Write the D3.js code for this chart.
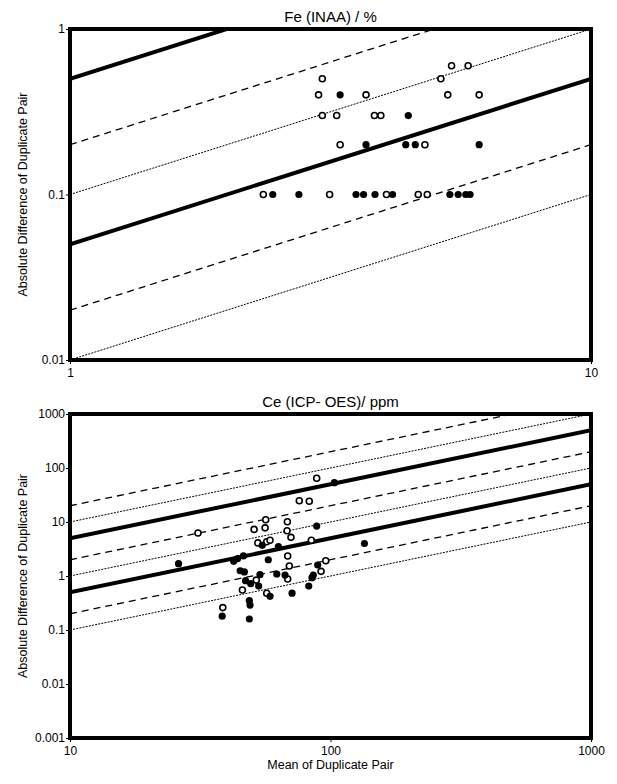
<!DOCTYPE html>
<html><head><meta charset="utf-8">
<script src="https://cdn.jsdelivr.net/npm/d3@7"></script>
<style>body{margin:0;background:#fff}text{font-family:"Liberation Sans",Arial,sans-serif}</style>
</head><body><svg id="c" width="617" height="784"></svg>
<script>
// ---- Top panel: Fe (INAA) / % ----
const feOpenX = [3.05,3.0,3.70,3.05,3.25,3.84,3.95,3.30,4.80,2.35,3.15,4.05,4.66,4.85,5.40,5.81,5.15,5.31,6.10];
const feOpenY = [0.5,0.4,0.4,0.3,0.3,0.3,0.3,0.2,0.2,0.1,0.1,0.1,0.1,0.1,0.6,0.6,0.5,0.4,0.4];
const feFillX = [3.30,4.46,3.70,4.41,4.60,2.45,2.75,3.54,3.66,3.85,4.16,6.10,5.36,5.56,5.75,5.86];
const feFillY = [0.4,0.3,0.2,0.2,0.2,0.1,0.1,0.1,0.1,0.1,0.1,0.2,0.1,0.1,0.1,0.1];
const feXTicks = [1,10];
const feYTicks = [0.01,0.1,1];
// ---- Bottom panel: Ce (ICP-OES)/ ppm ----
const ceOpenX = [88.5,75.9,82.9,56.4,68.3,50.9,56.1,68.1,31.0,70.5,52.6,56.9,58.6,84.4,68.5,95.9,69.5,92.0,68.5,51.9,45.9,56.9,38.6];
const ceOpenY = [64.4,24.8,24.2,11.0,10.1,7.3,7.8,6.9,6.25,5.2,4.1,4.3,4.6,4.6,2.35,1.92,1.53,1.22,0.88,0.84,0.55,0.48,0.26];
const ceFillX = [103.5,88.5,54.7,63.1,46.3,44.0,42.5,57.7,26.1,89.3,45.0,46.7,53.6,62.2,66.9,85.9,84.9,47.2,49.4,53.0,82.5,71.2,58.6,48.8,49.1,38.4,48.8,135];
const ceFillY = [53.4,8.4,3.7,3.5,2.35,2.1,1.87,2.0,1.69,1.6,1.25,1.19,1.06,1.09,1.04,1.04,0.93,0.82,0.72,0.65,0.65,0.48,0.42,0.35,0.29,0.18,0.16,4.0];
const ceXTicks = [10,100,1000];
const ceYTicks = [0.001,0.01,0.1,1,10,100,1000];
// reference lines: |d| = k * mean
const feLinesK = [0.5,0.2,0.1,0.05,0.02,0.01];
const feLinesStyle = ["thick","dashed","dotted","thick","dashed","dotted"];
const ceLinesK = [2,1,0.5,0.2,0.1,0.05,0.02,0.01];
const ceLinesStyle = ["dashed","dotted","thick","dashed","dotted","thick","dashed","dotted"];

const svg = d3.select("#c");
const fmt = d => String(d);
const styles = {
  thick:{w:4,dash:null},
  dashed:{w:1.3,dash:"7,5"},
  dotted:{w:1,dash:"2,1.2"}
};

function panel(o){
  const g = svg.append("g");
  const x = d3.scaleLog().domain(o.xd).range([o.l,o.r]);
  const y = d3.scaleLog().domain(o.yd).range([o.b,o.t]);
  const cid = "clip"+o.id;
  svg.append("defs").append("clipPath").attr("id",cid)
    .append("rect").attr("x",o.l).attr("y",o.t).attr("width",o.r-o.l).attr("height",o.b-o.t);
  const lg = g.append("g").attr("clip-path","url(#"+cid+")");
  o.lk.forEach((k,i)=>{
    const s = styles[o.ls[i]];
    const x0=o.xd[0], x1=o.xd[1];
    lg.append("line").attr("x1",x(x0)).attr("y1",y(k*x0)).attr("x2",x(x1)).attr("y2",y(k*x1))
      .attr("stroke","#000").attr("stroke-width",s.w).attr("stroke-dasharray",s.dash);
  });
  g.selectAll(".o").data(d3.zip(o.ox,o.oy)).join("circle")
    .attr("cx",d=>x(d[0])).attr("cy",d=>y(d[1])).attr("r",3)
    .attr("fill","#fff").attr("stroke","#000").attr("stroke-width",1.6);
  g.selectAll(".f").data(d3.zip(o.fx,o.fy)).join("circle")
    .attr("cx",d=>x(d[0])).attr("cy",d=>y(d[1])).attr("r",3.6).attr("fill","#000");
  const ax = g.append("g").attr("transform",`translate(0,${o.b})`)
    .call(d3.axisBottom(x).tickValues(o.xt).tickFormat(fmt).tickSize(4).tickPadding(4));
  const ay = g.append("g").attr("transform",`translate(${o.l},0)`)
    .call(d3.axisLeft(y).tickValues(o.yt).tickFormat(fmt).tickSize(4).tickPadding(1));
  [ax,ay].forEach(a=>{a.select(".domain").remove();
    a.selectAll("text").attr("font-size",12).attr("fill","#000").style("font-family","Liberation Sans, Arial, sans-serif");
    a.selectAll("line").attr("stroke","#000");});
  g.append("rect").attr("x",o.l).attr("y",o.t).attr("width",o.r-o.l).attr("height",o.b-o.t)
    .attr("fill","none").attr("stroke","#000").attr("stroke-width",4);
  g.append("text").attr("x",(o.l+o.r)/2).attr("y",o.t-7).attr("text-anchor","middle")
    .attr("font-size",15).text(o.title);
  g.append("text").attr("transform",`translate(27,${(o.t+o.b)/2}) rotate(-90)`)
    .attr("text-anchor","middle").attr("font-size",12.5).text("Absolute Difference of Duplicate Pair");
  if(o.xlabel) g.append("text").attr("x",(o.l+o.r)/2).attr("y",o.b+31).attr("text-anchor","middle")
    .attr("font-size",12.5).text(o.xlabel);
}

panel({id:1,l:70,r:591,t:29,b:360,xd:[1,10],yd:[0.01,1],xt:feXTicks,yt:feYTicks,
  lk:feLinesK,ls:feLinesStyle,ox:feOpenX,oy:feOpenY,fx:feFillX,fy:feFillY,title:"Fe (INAA) / %"});
panel({id:2,l:70,r:591,t:414,b:738,xd:[10,1000],yd:[0.001,1000],xt:ceXTicks,yt:ceYTicks,
  lk:ceLinesK,ls:ceLinesStyle,ox:ceOpenX,oy:ceOpenY,fx:ceFillX,fy:ceFillY,title:"Ce (ICP- OES)/ ppm",xlabel:"Mean of Duplicate Pair"});
</script></body></html>
